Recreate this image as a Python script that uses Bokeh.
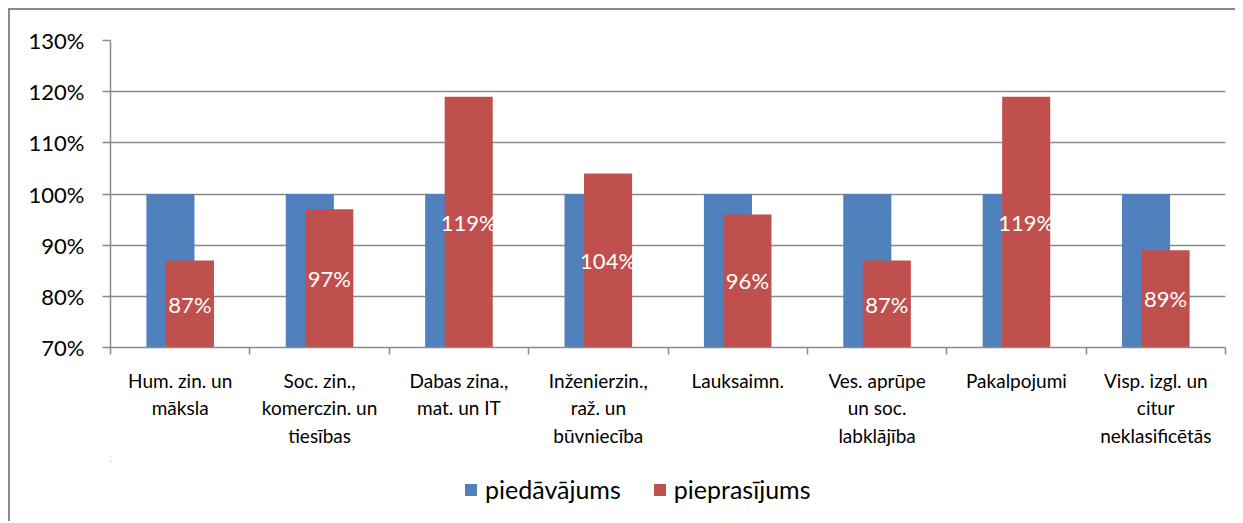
import numpy as np
from bokeh.plotting import figure
from bokeh.layouts import column
from bokeh.models import (ColumnDataSource, Range1d, FixedTicker, NumeralTickFormatter,
                          Legend, LegendItem, LabelSet)
from bokeh.core.properties import value
from bokeh.transform import dodge
from bokeh.embed import file_html
from bokeh.resources import INLINE

categories = [
    "Hum. zin. un\nmāksla",
    "Soc. zin.,\nkomerczin. un\ntiesības",
    "Dabas zina.,\nmat. un IT",
    "Inženierzin.,\nraž. un\nbūvniecība",
    "Lauksaimn.",
    "Ves. aprūpe\nun soc.\nlabklājība",
    "Pakalpojumi",
    "Visp. izgl. un\ncitur\nneklasificētās",
]
supply = [1.00, 1.00, 1.00, 1.00, 1.00, 1.00, 1.00, 1.00]   # piedāvājums
demand = [0.87, 0.97, 1.19, 1.04, 0.96, 0.87, 1.19, 0.89]   # pieprasījums
demand_labels = ["87%", "97%", "119%", "104%", "96%", "87%", "119%", "89%"]
series_names = ["piedāvājums", "pieprasījums"]
y_ticks = [0.7, 0.8, 0.9, 1.0, 1.1, 1.2, 1.3]

FONT = "Lato"
GRID = "#8a8a8a"
BLUE = "#4F81BD"
RED = "#C0504D"

n = len(categories)
idx = list(range(n))
y_min, y_max = y_ticks[0], y_ticks[-1]

src = ColumnDataSource(dict(
    x=idx,
    supply=supply,
    demand=demand,
    label=demand_labels,
    label_y=[(y_min + v) / 2 for v in demand],
))

p = figure(width=1225, height=451, output_backend="svg", toolbar_location=None,
           x_range=Range1d(-0.5, n - 0.5), y_range=Range1d(y_min, y_max),
           min_border_left=100, min_border_right=10, min_border_top=30, min_border_bottom=114)
p.outline_line_color = None
p.background_fill_color = "white"
p.border_fill_color = "white"

bw = 0.345
off = 0.07
r1 = p.vbar(x=dodge("x", -off, range=p.x_range), top="supply", bottom=0, width=bw,
            source=src, fill_color=BLUE, line_color=None)
r2 = p.vbar(x=dodge("x", off, range=p.x_range), top="demand", bottom=0, width=bw,
            source=src, fill_color=RED, line_color=None)

labels = LabelSet(x=dodge("x", off, range=p.x_range), y="label_y", text="label", source=src,
                  text_align="center", text_baseline="middle", text_color="white",
                  text_font=value(FONT), text_font_size="22px")
p.add_layout(labels)

# grid
p.xgrid.grid_line_color = None
p.ygrid.ticker = FixedTicker(ticks=y_ticks)
p.ygrid.grid_line_color = GRID
p.ygrid.grid_line_width = 1.5

# y axis
p.yaxis.ticker = FixedTicker(ticks=y_ticks)
p.yaxis.formatter = NumeralTickFormatter(format="0%")
p.yaxis.axis_line_color = GRID
p.yaxis.axis_line_width = 1.5
p.yaxis.major_tick_line_color = GRID
p.yaxis.major_tick_line_width = 1.5
p.yaxis.major_tick_out = 8
p.yaxis.major_tick_in = 0
p.yaxis.minor_tick_line_color = None
p.yaxis.major_label_standoff = 18
p.yaxis.major_label_text_font = FONT
p.yaxis.major_label_text_font_size = "22px"
p.yaxis.major_label_text_color = "black"

# x axis
p.xaxis.ticker = FixedTicker(ticks=idx, minor_ticks=[i - 0.5 for i in range(n + 1)])
p.xaxis.major_label_overrides = {i: c for i, c in zip(idx, categories)}
p.xaxis.axis_line_color = GRID
p.xaxis.axis_line_width = 1.5
p.xaxis.major_tick_line_color = None
p.xaxis.major_tick_out = 0
p.xaxis.minor_tick_line_color = GRID
p.xaxis.minor_tick_line_width = 1.5
p.xaxis.minor_tick_out = 7
p.xaxis.minor_tick_in = 0
p.xaxis.major_label_standoff = 14
p.xaxis.major_label_text_font = FONT
p.xaxis.major_label_text_font_size = "19px"
p.xaxis.major_label_text_color = "black"
p.xaxis.major_label_text_line_height = 1.2

# legend strip (its bars lie outside its visible ranges; only the legend shows)
p2 = figure(width=1225, height=60, output_backend="svg", toolbar_location=None,
            x_range=Range1d(n + 10, n + 11), y_range=Range1d(-20, -19), min_border=0)
p2.axis.visible = False
p2.grid.visible = False
p2.outline_line_color = None
d1 = p2.vbar(x="x", top="supply", bottom=0, width=bw, source=src,
             fill_color=BLUE, line_color=None)
d2 = p2.vbar(x="x", top="demand", bottom=0, width=bw, source=src,
             fill_color=RED, line_color=None)
legend = Legend(items=[LegendItem(label=series_names[0], renderers=[d1]),
                       LegendItem(label=series_names[1], renderers=[d2])],
                orientation="horizontal", location=(353, 17))
legend.border_line_color = None
legend.background_fill_alpha = 0
legend.label_text_font = FONT
legend.label_text_font_size = "25px"
legend.label_text_color = "black"
legend.glyph_width = 15
legend.glyph_height = 15
legend.label_standoff = 7
legend.spacing = 31
legend.padding = 0
legend.margin = 0
p2.add_layout(legend, "center")

layout = column(p, p2, spacing=0,
                styles={"border-left": f"2px solid {GRID}", "border-top": f"2px solid {GRID}",
                        "margin-left": "8px", "margin-top": "8px"})

open("out.html", "w").write(file_html(layout, INLINE))
